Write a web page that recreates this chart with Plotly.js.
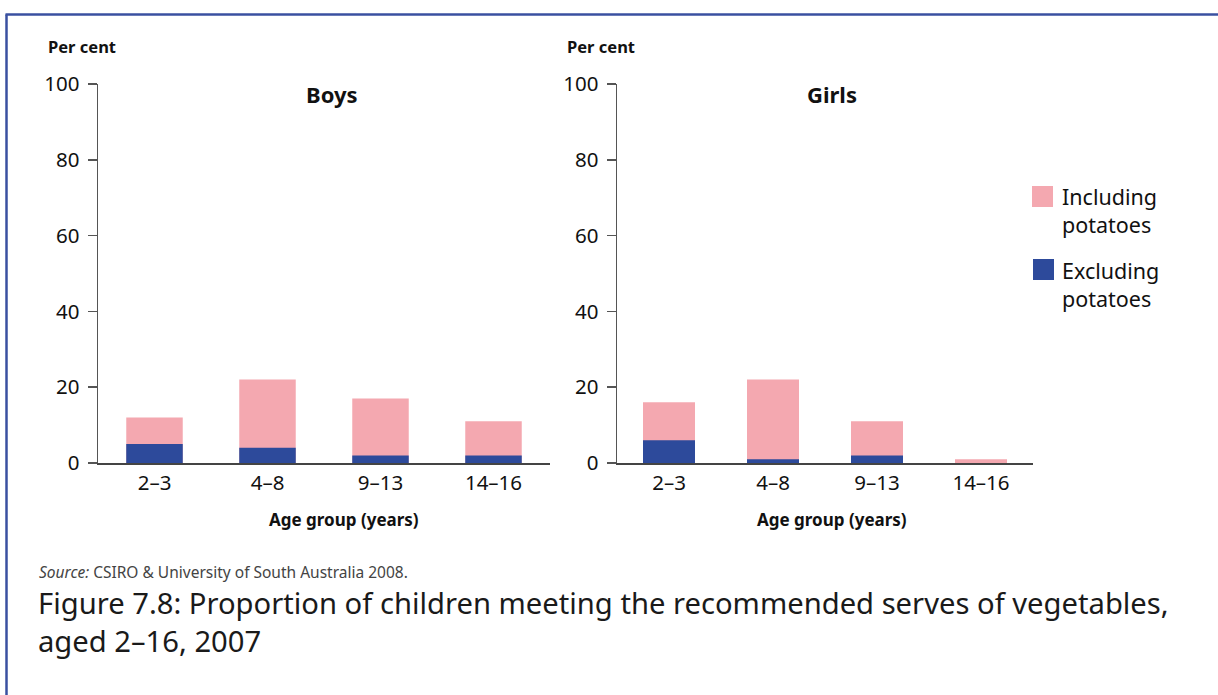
<!DOCTYPE html>
<html>
<head>
<meta charset="utf-8">
<script src="https://cdn.plot.ly/plotly-3.0.1.min.js"></script>
<style>
html,body{margin:0;padding:0;background:#fff;}
#chart{width:1218px;height:695px;}
</style>
</head>
<body>
<div id="chart"></div>
<script>
// ---- data ----
var ageGroups = ["2–3", "4–8", "9–13", "14–16"];
var boysIncluding = [12, 22, 17, 11];
var boysExcluding = [5, 4, 2, 2];
var girlsIncluding = [16, 22, 11, 1];
var girlsExcluding = [6, 1, 2, 0];
var seriesNames = ["Including<br>potatoes", "Excluding<br>potatoes"];
var yTicks = [0, 20, 40, 60, 80, 100];
var panelTitles = ["Boys", "Girls"];

// ---- styling ----
var W = 1218, H = 695;
var PINK = "#f4a8b0", BLUE = "#2d4a9b", FRAME = "#3a50a0";
var FONT = "Noto Sans, Open Sans, sans-serif";
function px(x){ return x / W; }
function py(y){ return 1 - y / H; }

var traces = [
  {type:"bar", x:ageGroups, y:boysIncluding, name:seriesNames[0], marker:{color:PINK}, xaxis:"x", yaxis:"y", hoverinfo:"y", showlegend:false},
  {type:"bar", x:ageGroups, y:boysExcluding, name:seriesNames[1], marker:{color:BLUE}, xaxis:"x", yaxis:"y", hoverinfo:"y", showlegend:false},
  {type:"bar", x:ageGroups, y:girlsIncluding, name:seriesNames[0], marker:{color:PINK}, xaxis:"x2", yaxis:"y2", hoverinfo:"y", showlegend:false},
  {type:"bar", x:ageGroups, y:girlsExcluding, name:seriesNames[1], marker:{color:BLUE}, xaxis:"x2", yaxis:"y2", hoverinfo:"y", showlegend:false}
];

var yDom = [py(463), py(84)];
function xAxis(dom, anchor){
  return {domain:dom, anchor:anchor, showline:true, linecolor:"#444", linewidth:1.5,
    ticks:"", showgrid:false, zeroline:false, fixedrange:true,
    tickfont:{family:FONT, size:20.5, color:"#111"}, ticklabelstandoff:1};
}
function yAxis(anchor){
  return {domain:yDom, anchor:anchor, range:[0,100], tickvals:yTicks, showline:true,
    linecolor:"#555", linewidth:1.5, ticks:"outside", ticklen:9, tickwidth:1.5, tickcolor:"#555",
    showgrid:false, zeroline:false, fixedrange:true,
    tickfont:{family:FONT, size:20.5, color:"#111"}, ticklabelstandoff:4};
}

var ann = [];
function txt(x, y, text, size, opts){
  var a = {xref:"paper", yref:"paper", x:px(x), y:py(y), text:text, showarrow:false,
    font:{family:FONT, size:size, color:"#111"}, xanchor:"left", yanchor:"middle", align:"left"};
  for (var k in opts){ a[k] = opts[k]; }
  ann.push(a);
}
txt(46, 47, "<b>Per cent</b>", 16.5);
txt(565, 47, "<b>Per cent</b>", 16.5);
txt(332, 94, "<b>" + panelTitles[0] + "</b>", 22, {xanchor:"center"});
txt(832, 94, "<b>" + panelTitles[1] + "</b>", 22, {xanchor:"center"});
txt(344, 519, "<b>Age group (years)</b>", 17, {xanchor:"center"});
txt(832, 519, "<b>Age group (years)</b>", 17, {xanchor:"center"});
txt(1060, 210, seriesNames[0], 21.5);
txt(1060, 284, seriesNames[1], 21.5);
txt(37, 572, "<i>Source:</i> CSIRO & University of South Australia 2008.", 15.5, {font:{family:FONT, size:15.5, color:"#444"}});
txt(36, 622, "Figure 7.8: Proportion of children meeting the recommended serves of vegetables,<br>aged 2–16, 2007", 29.2, {font:{family:FONT, size:29.2, color:"#1a1a1a"}});

var shapes = [
  {type:"line", xref:"paper", yref:"paper", x0:px(5.5), x1:px(1218), y0:py(14.5), y1:py(14.5), line:{color:FRAME, width:2.5}},
  {type:"line", xref:"paper", yref:"paper", x0:px(6.5), x1:px(6.5), y0:py(14.5), y1:py(695), line:{color:FRAME, width:2.5}},
  {type:"rect", xref:"paper", yref:"paper", x0:px(1032), x1:px(1053), y0:py(207), y1:py(186), fillcolor:PINK, line:{width:0}},
  {type:"rect", xref:"paper", yref:"paper", x0:px(1033), x1:px(1054), y0:py(280), y1:py(259), fillcolor:BLUE, line:{width:0}}
];

var layout = {
  width:W, height:H, margin:{l:0, r:0, t:0, b:0},
  paper_bgcolor:"#fff", plot_bgcolor:"#fff",
  barmode:"overlay", bargap:0.5, showlegend:false,
  xaxis:xAxis([px(98), px(550)], "y"),
  yaxis:yAxis("x"),
  xaxis2:xAxis([px(617), px(1033)], "y2"),
  yaxis2:yAxis("x2"),
  annotations:ann, shapes:shapes,
  font:{family:FONT}
};

Plotly.newPlot("chart", traces, layout, {displayModeBar:false, staticPlot:true});
</script>
</body>
</html>
